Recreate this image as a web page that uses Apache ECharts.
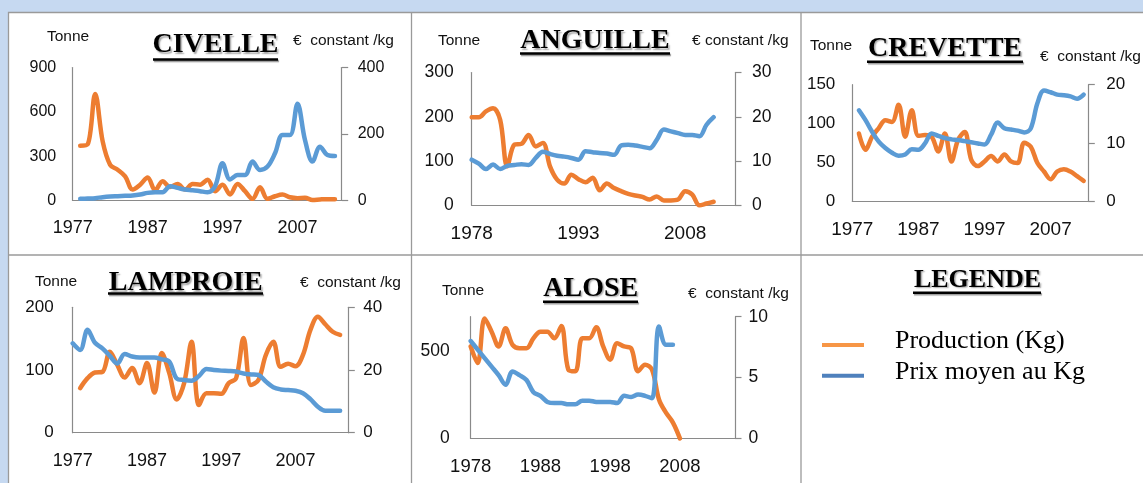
<!DOCTYPE html>
<html><head><meta charset="utf-8">
<script src="https://cdn.jsdelivr.net/npm/echarts@6/dist/echarts.min.js"></script>
<style>html,body{margin:0;padding:0;background:#c6d9f1;}#c{width:1143px;height:483px;}</style>
</head><body><div id="c"></div>
<script>
// ---------------- DATA ----------------
const years1977to2013 = [1977,1978,1979,1980,1981,1982,1983,1984,1985,1986,1987,1988,1989,1990,1991,1992,1993,1994,1995,1996,1997,1998,1999,2000,2001,2002,2003,2004,2005,2006,2007,2008,2009,2010,2011,2012,2013];
const years1978to2013 = [1978,1979,1980,1981,1982,1983,1984,1985,1986,1987,1988,1989,1990,1991,1992,1993,1994,1995,1996,1997,1998,1999,2000,2001,2002,2003,2004,2005,2006,2007,2008,2009,2010,2011,2012,2013];
const years1978to2012 = [1978,1979,1980,1981,1982,1983,1984,1985,1986,1987,1988,1989,1990,1991,1992,1993,1994,1995,1996,1997,1998,1999,2000,2001,2002,2003,2004,2005,2006,2007,2008,2009,2010,2011,2012];
const years1978to2008 = [1978,1979,1980,1981,1982,1983,1984,1985,1986,1987,1988,1989,1990,1991,1992,1993,1994,1995,1996,1997,1998,1999,2000,2001,2002,2003,2004,2005,2006,2007,2008];
const years1978to2007 = [1978,1979,1980,1981,1982,1983,1984,1985,1986,1987,1988,1989,1990,1991,1992,1993,1994,1995,1996,1997,1998,1999,2000,2001,2002,2003,2004,2005,2006,2007];

// CIVELLE (production in tonnes, price in constant EUR/kg)
const civelleProd  = [371,380,721,400,241,208,163,74,107,156,69,130,92,112,74,112,107,141,63,107,40,112,63,11,89,11,29,40,22,16,18,4,7,9,9];
const civellePrice = [5,6,7,10,12,13,14,15,18,23,25,25,43,38,33,31,28,25,43,112,63,77,77,117,92,102,142,197,197,291,182,117,162,137,134];
// ANGUILLE
const anguilleProd  = [199,199,212,219,193,88,137,139,159,133,141,88,58,49,69,59,52,62,34,49,39,32,26,22,19,13,20,11,11,13,32,24,0,4,8];
const anguillePrice = [10.3,9.4,8.2,9.2,8.2,8.9,9.1,9.3,9.1,10.7,12.1,11.6,11.2,11.0,10.7,10.3,12.2,12.0,11.8,11.7,11.4,13.5,13.7,13.5,13.2,12.9,14.8,17.1,16.7,16.3,15.9,15.9,15.6,18.2,19.9];
// CREVETTE
const crevetteProd  = [87,66,83,94,104,102,124,83,117,84,85,83,64,87,51,79,89,53,45,51,58,51,60,51,49,75,70,49,38,28,38,41,38,32,26];
const crevettePrice = [15.6,13.9,11.9,10.2,9.1,8.3,7.8,8.0,8.9,8.8,9.9,11.6,11.2,10.8,10.6,10.5,10.3,10.1,9.9,9.7,11.4,13.5,12.5,12.3,12.1,11.8,12.5,16.8,19.0,18.7,18.3,18.2,18.0,17.6,18.3];
// LAMPROIE
const lamproieProd  = [71,87,96,97,129,108,88,103,79,111,64,127,95,53,79,145,44,63,63,62,79,87,151,76,84,124,145,105,110,106,124,164,185,173,161,156];
const lamproiePrice = [28.5,26.4,32.8,28.7,26.9,24.5,22.1,25.1,24.3,24.0,24.0,24.0,23.4,22.7,17.3,16.8,16.6,18.1,20.3,20.0,19.8,19.7,19.5,18.9,18.6,18.4,16.3,14.5,13.8,13.6,13.4,12.6,10.7,8.3,7.0,7.0,7.0];
// ALOSE
const aloseProd  = [529,434,690,614,529,633,538,519,519,576,614,614,576,647,396,386,576,576,639,529,453,548,529,519,386,424,396,224,148,91,0];
const alosePrice = [8.0,7.3,6.6,5.9,5.2,4.4,5.5,5.2,4.8,3.8,3.5,3.0,2.9,2.9,2.8,2.8,3.1,3.1,3.0,3.0,3.0,2.9,3.5,3.4,3.6,3.5,3.3,9.2,7.7,7.7];

const titles = ['CIVELLE','ANGUILLE','CREVETTE','LAMPROIE','ALOSE'];
const leftAxisName = 'Tonne';
const rightAxisName = '€ constant /kg';
const legendTitle = 'LEGENDE';
const legendNames = ['Production (Kg)','Prix moyen au Kg'];

// ---------------- LAYOUT / STYLE ----------------
const SANS = '"Liberation Sans", Arial, sans-serif';
const SERIF = '"Liberation Serif", "Times New Roman", serif';
const ORANGE = '#ED7D31', BLUE = '#5B9BD5', AXIS = '#8a8a8a', TXT = '#111111';

const panels = [
  {left:72.7, top:67.5, width:269, height:133, xMin:1977, xMax:2012.9, xInt:10, lMax:900, lInt:300, rMax:400, rInt:200, yfs:16, xfs:18, lm:16.5, rm:16,
   prodX:years1978to2012, prod:civelleProd, priceX:years1978to2012, price:civellePrice},
  {left:471.7, top:72.5, width:263.3, height:132.8, xMin:1978, xMax:2015, xInt:15, lMax:300, lInt:100, rMax:30, rInt:10, yfs:17.5, xfs:19, lm:18, rm:17,
   prodX:years1978to2012, prod:anguilleProd, priceX:years1978to2012, price:anguillePrice},
  {left:852.3, top:84.7, width:236, height:116.3, xMin:1977, xMax:2012.7, xInt:10, lMax:150, lInt:50, rMax:20, rInt:10, yfs:17, xfs:19, lm:17, rm:18,
   prodX:years1978to2012, prod:crevetteProd, priceX:years1978to2012, price:crevettePrice},
  {left:72.7, top:307.3, width:275.6, height:125.4, xMin:1977, xMax:2014.1, xInt:10, lMax:200, lInt:100, rMax:40, rInt:20, yfs:17, xfs:18, lm:19, rm:15,
   prodX:years1978to2013, prod:lamproieProd, priceX:years1977to2013, price:lamproiePrice},
  {left:470.7, top:316.7, width:264.3, height:121.7, xMin:1978, xMax:2015.9, xInt:10, lMax:700, lInt:500, rMax:10, rInt:5, yfs:17.5, xfs:18.5, lm:21, rm:13.5,
   prodX:years1978to2008, prod:aloseProd, priceX:years1978to2007, price:alosePrice}
];

const grid = [], xAxis = [], yAxis = [], series = [];
panels.forEach((p, i) => {
  grid.push({left:p.left, top:p.top, width:p.width, height:p.height, containLabel:false});
  xAxis.push({type:'value', gridIndex:i, min:p.xMin, max:p.xMax, interval:p.xInt,
    axisLine:{show:true, onZero:false, lineStyle:{color:AXIS, width:1.2}}, axisTick:{show:false}, splitLine:{show:false},
    axisLabel:{show:true, showMaxLabel:false, margin:19, fontSize:p.xfs, fontFamily:SANS, color:TXT, formatter:v=>String(v)}});
  yAxis.push({type:'value', gridIndex:i, position:'left', min:0, max:p.lMax, interval:p.lInt,
    axisLine:{show:true, onZero:false, lineStyle:{color:AXIS, width:1.2}}, axisTick:{show:false}, splitLine:{show:false},
    axisLabel:{margin:p.lm, fontSize:p.yfs, fontFamily:SANS, color:TXT, showMaxLabel: (p.lMax % p.lInt === 0)}});
  yAxis.push({type:'value', gridIndex:i, position:'right', min:0, max:p.rMax, interval:p.rInt,
    axisLine:{show:true, onZero:false, lineStyle:{color:AXIS, width:1.2}}, axisTick:{show:true, length:6.5, lineStyle:{color:AXIS, width:1.2}}, splitLine:{show:false},
    axisLabel:{margin:p.rm, fontSize:p.yfs, fontFamily:SANS, color:TXT}});
  series.push({type:'line', xAxisIndex:i, yAxisIndex:2*i, data:p.prodX.map((y,k)=>[y,p.prod[k]]),
    showSymbol:false, smooth:0.35, clip:false, lineStyle:{color:ORANGE, width:4.5, cap:'round', join:'round'}, itemStyle:{color:ORANGE}, z:2});
  series.push({type:'line', xAxisIndex:i, yAxisIndex:2*i+1, data:p.priceX.map((y,k)=>[y,p.price[k]]),
    showSymbol:false, smooth:0.35, clip:false, lineStyle:{color:BLUE, width:4.5, cap:'round', join:'round'}, itemStyle:{color:BLUE}, z:3});
});

// ---------------- GRAPHIC (frames, titles, axis names, legend) ----------------
const g = [];
g.push({type:'rect', z:-100, shape:{x:8.5, y:12.5, width:1140, height:475}, style:{fill:'#ffffff', stroke:'#9a9a9a', lineWidth:1.3}});
g.push({type:'line', z:-99, shape:{x1:411.5, y1:12.5, x2:411.5, y2:483}, style:{stroke:'#9a9a9a', lineWidth:1.3}});
g.push({type:'line', z:-99, shape:{x1:801, y1:12.5, x2:801, y2:483}, style:{stroke:'#9a9a9a', lineWidth:1.3}});
g.push({type:'line', z:-99, shape:{x1:8.5, y1:255, x2:1143, y2:255}, style:{stroke:'#9a9a9a', lineWidth:1.3}});

function title(text, cx, cy, x1, x2, uy, size){
  g.push({type:'text', x:cx, y:cy, style:{text:text, font:'bold '+size+'px '+SERIF, fill:'#000', align:'center', verticalAlign:'middle',
    textShadowColor:'rgba(0,0,0,0.35)', textShadowOffsetX:1.5, textShadowOffsetY:1.5, textShadowBlur:1.5}});
  g.push({type:'line', shape:{x1:x1, y1:uy, x2:x2, y2:uy}, style:{stroke:'#000', lineWidth:2.4, shadowColor:'rgba(0,0,0,0.4)', shadowOffsetX:1, shadowOffsetY:1.5, shadowBlur:1}});
}
function label(text, x, y){
  g.push({type:'text', x:x, y:y, style:{text:text, font:'15.5px '+SANS, fill:TXT, align:'left', verticalAlign:'middle'}});
}
title(titles[0], 215.5, 45, 153, 278, 59.5, 28);
title(titles[1], 595, 41, 520, 670, 53.5, 28);
title(titles[2], 945, 48.5, 867, 1023, 61.7, 28);
title(titles[3], 185.8, 283, 108, 263, 293.5, 28);
title(titles[4], 590.8, 288.5, 543, 638, 301.7, 28);
title(legendTitle, 977.5, 280, 913, 1041, 292.7, 26);

label(leftAxisName, 47, 37);   label(rightAxisName.replace('€ ','€  '), 293, 41);
label(leftAxisName, 438, 40.5); label(rightAxisName, 692, 40.5);
label(leftAxisName, 810, 46);   label(rightAxisName.replace('€ ','€  '), 1040, 57);
label(leftAxisName, 35, 282);   label(rightAxisName.replace('€ ','€  '), 300, 283);
label(leftAxisName, 442, 290.5); label(rightAxisName.replace('€ ','€  '), 688, 293.5);

g.push({type:'line', shape:{x1:822, y1:345, x2:864, y2:345}, style:{stroke:'#F79646', lineWidth:4}});
g.push({type:'line', shape:{x1:822, y1:375.7, x2:864, y2:375.7}, style:{stroke:'#4F81BD', lineWidth:4}});
g.push({type:'text', x:895, y:341, style:{text:legendNames[0], font:'26px '+SERIF, fill:'#000', align:'left', verticalAlign:'middle'}});
g.push({type:'text', x:895, y:372, style:{text:legendNames[1], font:'26px '+SERIF, fill:'#000', align:'left', verticalAlign:'middle'}});

const chart = echarts.init(document.getElementById('c'), null, {renderer:'canvas'});
chart.setOption({backgroundColor:'#c6d9f1', animation:false, grid, xAxis, yAxis, series, graphic:{elements:g}});
</script>
</body></html>
